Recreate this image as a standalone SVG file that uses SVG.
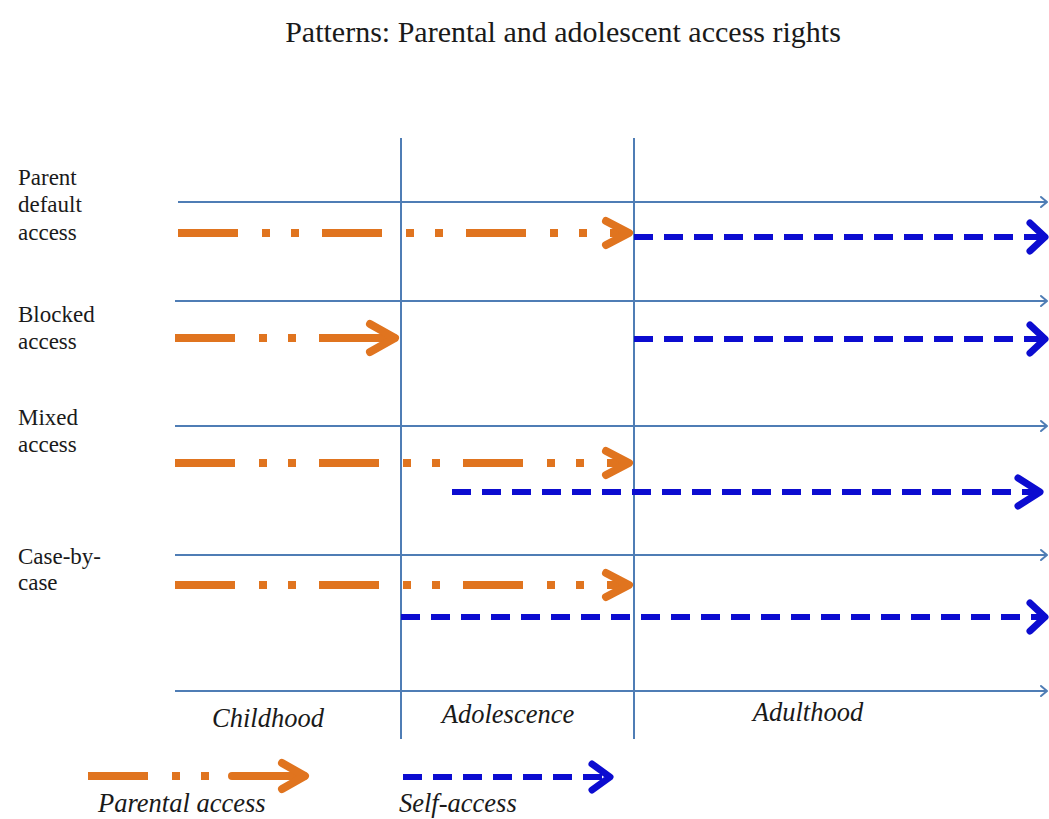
<svg xmlns="http://www.w3.org/2000/svg" width="1049" height="819" viewBox="0 0 1049 819">
<style>
.txt{font-family:"Liberation Serif","Times New Roman",serif;fill:#1a1a1a}
.lbl{font-size:23px}
.ital{font-size:26.5px;font-style:italic}
.axis{stroke:#4f7db5;stroke-width:2;fill:none}
.ahead{stroke:#4f7db5;stroke-width:2;fill:none;stroke-linecap:round;stroke-linejoin:round}
.par{stroke:#e0741f;stroke-width:8;fill:none;stroke-dasharray:60 24 8 21 8 23}
.parh{stroke:#e0741f;stroke-width:8;fill:none;stroke-linecap:round;stroke-linejoin:round}
.self{stroke:#0c0cd0;stroke-width:6;fill:none;stroke-dasharray:19 11}
.selfh{stroke:#0c0cd0;stroke-width:7;fill:none;stroke-linecap:round;stroke-linejoin:round}
</style>
<rect width="1049" height="819" fill="#ffffff"/>
<text class="txt" x="563" y="42" font-size="30" text-anchor="middle" id="title">Patterns: Parental and adolescent access rights</text>

<g id="row-labels">
<g id="lbl-parent-default"><text class="txt lbl" x="18" y="185">Parent</text><text class="txt lbl" x="18" y="212">default</text><text class="txt lbl" x="18" y="240">access</text></g>
<g id="lbl-blocked"><text class="txt lbl" x="18" y="322">Blocked</text><text class="txt lbl" x="18" y="349">access</text></g>
<g id="lbl-mixed"><text class="txt lbl" x="18" y="425">Mixed</text><text class="txt lbl" x="18" y="452">access</text></g>
<g id="lbl-case"><text class="txt lbl" x="18" y="564">Case-by-</text><text class="txt lbl" x="18" y="590">case</text></g>
</g>

<g id="phase-labels">
<text class="txt ital" x="268" y="727" text-anchor="middle" id="childhood">Childhood</text>
<text class="txt ital" x="508" y="723" text-anchor="middle" id="adolescence">Adolescence</text>
<text class="txt ital" x="808" y="721" text-anchor="middle" id="adulthood">Adulthood</text>
</g>

<g id="grid">
<line class="axis" x1="401" y1="138" x2="401" y2="739"/>
<line class="axis" x1="634" y1="138" x2="634" y2="739"/>
<line class="axis" x1="178" y1="202" x2="1047" y2="202"/>
<path class="ahead" d="M1041,197 L1047,202 L1041,207"/>
<line class="axis" x1="175" y1="301" x2="1047" y2="301"/>
<path class="ahead" d="M1041,296 L1047,301 L1041,306"/>
<line class="axis" x1="175" y1="426" x2="1047" y2="426"/>
<path class="ahead" d="M1041,421 L1047,426 L1041,431"/>
<line class="axis" x1="175" y1="555" x2="1047" y2="555"/>
<path class="ahead" d="M1041,550 L1047,555 L1041,560"/>
<line class="axis" x1="175" y1="691" x2="1047" y2="691"/>
<path class="ahead" d="M1041,686 L1047,691 L1041,696"/>
</g>

<g id="connectors">
<g id="parent-default-parental">
<line class="par" x1="178" y1="233" x2="628" y2="233"/>
<path class="parh" d="M606,221 L629,233 L606,245"/>
</g>
<g id="parent-default-self">
<line class="self" x1="634" y1="237" x2="1040" y2="237"/>
<path class="selfh" d="M1030,223 L1045,237 L1030,251"/>
</g>
<g id="blocked-parental">
<line class="par" x1="175" y1="338" x2="394" y2="338"/>
<line class="parh" x1="375" y1="338" x2="394" y2="338"/>
<path class="parh" d="M370,324 L395,338 L370,352"/>
</g>
<g id="blocked-self">
<line class="self" x1="634" y1="339" x2="1040" y2="339"/>
<path class="selfh" d="M1030,325 L1045,339 L1030,353"/>
</g>
<g id="mixed-parental">
<line class="par" x1="175" y1="463" x2="628" y2="463"/>
<path class="parh" d="M606,451 L629,463 L606,475"/>
</g>
<g id="mixed-self">
<line class="self" x1="452" y1="492" x2="1036" y2="492"/>
<path class="selfh" d="M1018,478 L1040,492 L1018,506"/>
</g>
<g id="case-parental">
<line class="par" x1="175" y1="585" x2="628" y2="585"/>
<path class="parh" d="M606,573 L629,585 L606,597"/>
</g>
<g id="case-self">
<line class="self" x1="401" y1="617" x2="1040" y2="617"/>
<path class="selfh" d="M1030,603 L1045,617 L1030,631"/>
</g>
</g>

<g id="legend">
<g id="legend-parental">
<line class="par" x1="88" y1="776" x2="304" y2="776"/>
<line class="parh" x1="232" y1="776" x2="304" y2="776"/>
<path class="parh" d="M282,763 L305,776 L282,789"/>
<text class="txt ital" x="98" y="812">Parental access</text>
</g>
<g id="legend-self">
<line class="self" x1="403" y1="777" x2="608" y2="777"/>
<path class="selfh" d="M592,764 L610,777 L592,790"/>
<text class="txt ital" x="399" y="812">Self-access</text>
</g>
</g>
</svg>
